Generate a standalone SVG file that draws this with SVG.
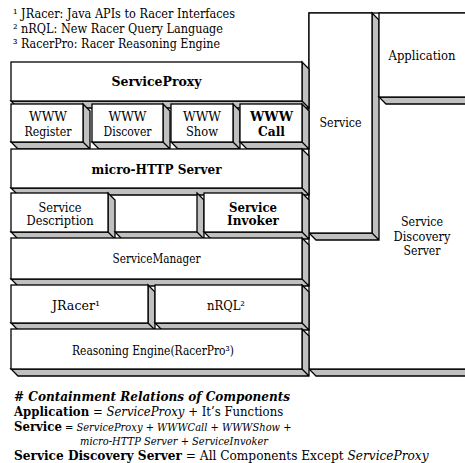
<svg xmlns="http://www.w3.org/2000/svg" width="465" height="463" viewBox="0 0 465 463">
  <style>
    .front { fill: #ffffff; stroke: #000000; stroke-width: 1.3; }
    .side { fill: #c0c0c0; stroke: #000000; stroke-width: 1.3; stroke-linejoin: miter; }
    text { font-family: "DejaVu Serif", "Liberation Serif", serif; font-stretch: condensed; fill: #000000; }
    .lbl { font-size: 13px; text-anchor: middle; }
    .b { font-weight: bold; }
    .note { font-size: 12.5px; }
    .bi { font-weight: bold; font-style: italic; }
    .it { font-style: italic; }
  </style>

  <!-- footnotes -->
  <g id="footnotes">
    <text class="note" x="13" y="18" textLength="222" lengthAdjust="spacingAndGlyphs">¹ JRacer: Java APIs to Racer Interfaces</text>
    <text class="note" x="13" y="33" textLength="210" lengthAdjust="spacingAndGlyphs">² nRQL: New Racer Query Language</text>
    <text class="note" x="13" y="48" textLength="207" lengthAdjust="spacingAndGlyphs">³ RacerPro: Racer Reasoning Engine</text>
  </g>

  <!-- right column: discovery server, service, application -->
  <g id="service-discovery-server">
    <path class="side" d="M479,13 L486,20 L486,376 L316,376 L309,369 L479,369 Z M479,369 L486,376"/>
    <rect class="front" x="309" y="13" width="170" height="356"/>
    <text class="lbl" x="422" y="226" textLength="42" lengthAdjust="spacingAndGlyphs">Service</text>
    <text class="lbl" x="422" y="241" textLength="57" lengthAdjust="spacingAndGlyphs">Discovery</text>
    <text class="lbl" x="422" y="255" textLength="37" lengthAdjust="spacingAndGlyphs">Server</text>
  </g>
  <g id="service">
    <path class="side" d="M372,13 L379,20 L379,240 L316,240 L309,233 L372,233 Z M372,233 L379,240"/>
    <rect class="front" x="309" y="13" width="63" height="220"/>
    <text class="lbl" x="340.5" y="127" textLength="42" lengthAdjust="spacingAndGlyphs">Service</text>
  </g>
  <g id="application">
    <path class="side" d="M479,13 L486,20 L486,104 L386,104 L379,97 L479,97 Z M479,97 L486,104"/>
    <rect class="front" x="379" y="13" width="100" height="84"/>
    <text class="lbl" x="422" y="59.5" textLength="67" lengthAdjust="spacingAndGlyphs">Application</text>
  </g>

  <!-- left column: component stack -->
  <g id="service-proxy">
    <path class="side" d="M302,62 L309,69 L309,108 L18,108 L11,101 L302,101 Z M302,101 L309,108"/>
    <rect class="front" x="11" y="62" width="291" height="39"/>
    <text class="lbl b" x="156.5" y="86" textLength="90" lengthAdjust="spacingAndGlyphs">ServiceProxy</text>
  </g>
  <g id="www-register">
    <path class="side" d="M83,104 L90,111 L90,149 L18,149 L11,142 L83,142 Z M83,142 L90,149"/>
    <rect class="front" x="11" y="104" width="72" height="38"/>
    <text class="lbl" x="48" y="121" textLength="38" lengthAdjust="spacingAndGlyphs">WWW</text>
    <text class="lbl" x="48" y="135.5" textLength="47" lengthAdjust="spacingAndGlyphs">Register</text>
  </g>
  <g id="www-discover">
    <path class="side" d="M163,104 L170,111 L170,149 L99,149 L92,142 L163,142 Z M163,142 L170,149"/>
    <rect class="front" x="92" y="104" width="71" height="38"/>
    <text class="lbl" x="127.5" y="121" textLength="38" lengthAdjust="spacingAndGlyphs">WWW</text>
    <text class="lbl" x="127.5" y="135.5" textLength="48" lengthAdjust="spacingAndGlyphs">Discover</text>
  </g>
  <g id="www-show">
    <path class="side" d="M233,104 L240,111 L240,149 L178,149 L171,142 L233,142 Z M233,142 L240,149"/>
    <rect class="front" x="171" y="104" width="62" height="38"/>
    <text class="lbl" x="202" y="121" textLength="38" lengthAdjust="spacingAndGlyphs">WWW</text>
    <text class="lbl" x="202" y="135.5" textLength="32" lengthAdjust="spacingAndGlyphs">Show</text>
  </g>
  <g id="www-call">
    <path class="side" d="M302,104 L309,111 L309,149 L247,149 L240,142 L302,142 Z M302,142 L309,149"/>
    <rect class="front" x="240" y="104" width="62" height="38"/>
    <text class="lbl b" x="271.5" y="121" textLength="43" lengthAdjust="spacingAndGlyphs">WWW</text>
    <text class="lbl b" x="271.5" y="135.5" textLength="27" lengthAdjust="spacingAndGlyphs">Call</text>
  </g>
  <g id="micro-http-server">
    <path class="side" d="M302,149 L309,156 L309,195 L18,195 L11,188 L302,188 Z M302,188 L309,195"/>
    <rect class="front" x="11" y="149" width="291" height="39"/>
    <text class="lbl b" x="156.5" y="174" textLength="130" lengthAdjust="spacingAndGlyphs">micro-HTTP Server</text>
  </g>
  <g id="service-description">
    <path class="side" d="M108,193 L115,200 L115,239 L18,239 L11,232 L108,232 Z M108,232 L115,239"/>
    <rect class="front" x="11" y="193" width="97" height="39"/>
    <text class="lbl" x="60" y="211.5" textLength="43" lengthAdjust="spacingAndGlyphs">Service</text>
    <text class="lbl" x="60" y="225" textLength="67" lengthAdjust="spacingAndGlyphs">Description</text>
  </g>
  <g id="empty-slot">
    <path class="side" d="M197,193 L204,200 L204,239 L122,239 L115,232 L197,232 Z M197,232 L204,239"/>
  </g>
  <g id="service-invoker">
    <path class="side" d="M302,193 L309,200 L309,239 L211,239 L204,232 L302,232 Z M302,232 L309,239"/>
    <rect class="front" x="204" y="193" width="98" height="39"/>
    <text class="lbl b" x="253" y="211.5" textLength="48" lengthAdjust="spacingAndGlyphs">Service</text>
    <text class="lbl b" x="253" y="225" textLength="52" lengthAdjust="spacingAndGlyphs">Invoker</text>
  </g>
  <g id="service-manager">
    <path class="side" d="M302,238 L309,245 L309,286 L18,286 L11,279 L302,279 Z M302,279 L309,286"/>
    <rect class="front" x="11" y="238" width="291" height="41"/>
    <text class="lbl" x="156.5" y="262.5" textLength="88" lengthAdjust="spacingAndGlyphs">ServiceManager</text>
  </g>
  <g id="jracer">
    <path class="side" d="M148,285 L155,292 L155,330 L18,330 L11,323 L148,323 Z M148,323 L155,330"/>
    <rect class="front" x="11" y="285" width="137" height="38"/>
    <text class="lbl" x="76" y="309.5" textLength="48" lengthAdjust="spacingAndGlyphs">JRacer¹</text>
  </g>
  <g id="nrql">
    <path class="side" d="M302,285 L309,292 L309,330 L162,330 L155,323 L302,323 Z M302,323 L309,330"/>
    <rect class="front" x="155" y="285" width="147" height="38"/>
    <text class="lbl" x="226" y="309.5" textLength="38" lengthAdjust="spacingAndGlyphs">nRQL²</text>
  </g>
  <g id="reasoning-engine">
    <path class="side" d="M302,329 L309,336 L309,376 L18,376 L11,369 L302,369 Z M302,369 L309,376"/>
    <rect class="front" x="11" y="329" width="291" height="40"/>
    <text class="lbl" x="153" y="354.5" textLength="162" lengthAdjust="spacingAndGlyphs">Reasoning Engine(RacerPro³)</text>
  </g>

  <!-- containment relations -->
  <g id="relations">
    <text class="bi" x="14" y="401" font-size="13.4"># Containment Relations of Components</text>
    <text x="14" y="416" font-size="13"><tspan class="b">Application</tspan> = <tspan class="it">ServiceProxy</tspan> + It’s Functions</text>
    <text x="14" y="431" font-size="11"><tspan class="b" font-size="13">Service</tspan> = <tspan class="it">ServiceProxy</tspan> + <tspan class="it">WWWCall</tspan> + <tspan class="it">WWWShow</tspan> +</text>
    <text x="80" y="445" font-size="11"><tspan class="it">micro-HTTP Server</tspan> + <tspan class="it">ServiceInvoker</tspan></text>
    <text x="14" y="460" font-size="13.5"><tspan class="b">Service Discovery Server</tspan> = All Components Except <tspan class="it">ServiceProxy</tspan></text>
  </g>
</svg>
